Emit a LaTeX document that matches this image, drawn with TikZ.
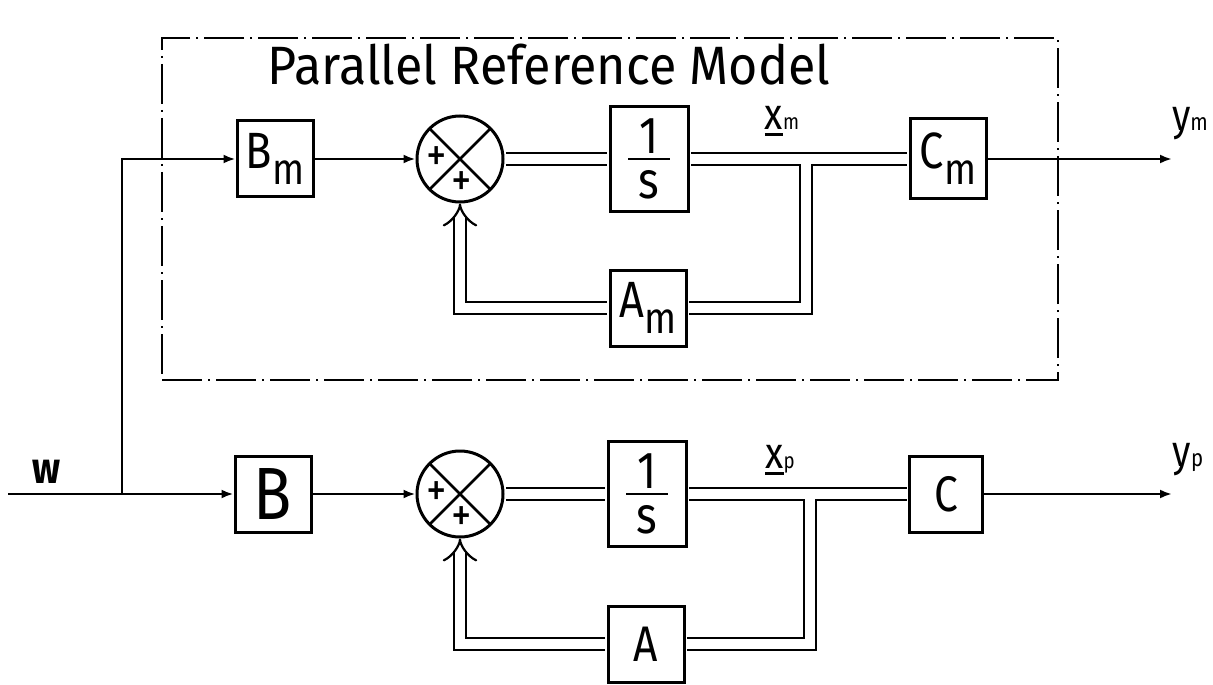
\documentclass[tikz,border=0pt]{standalone}
\usepackage{fontspec}
\setmainfont{Fira Sans}[FakeStretch=0.85]
\newfontfamily\titlefam{Fira Sans}[FakeStretch=0.93]
\usetikzlibrary{arrows.meta,positioning,calc}

\newcommand{\blocktxt}[2]{{\fontsize{25.5}{28}\selectfont #1\raisebox{-8pt}{\fontsize{22}{22}\selectfont #2}}}
\newcommand{\ulx}[1]{\setbox0\hbox{#1}\rlap{\rule[-3.5pt]{\wd0}{1.6pt}}\box0}
\newcommand{\titlefont}{\titlefam\fontsize{27}{30}\selectfont}

\begin{document}
\begin{tikzpicture}[x=0.5pt, y=-0.5pt,
    block/.style={draw, line width=1.5pt, minimum width=38pt, minimum height=38pt, inner sep=0pt},
    integ/.style={block, minimum width=39pt, minimum height=52.5pt, align=center,
        font=\fontsize{26}{22.5}\selectfont,
        path picture={\draw[line width=1.2pt] ([xshift=-10.5pt]path picture bounding box.center)
            -- ([xshift=10.5pt]path picture bounding box.center);}},
    summer/.style={circle, draw, line width=1.5pt, minimum size=43pt, inner sep=0pt,
        path picture={\draw[line width=1.3pt]
            (path picture bounding box.north west) -- (path picture bounding box.south east)
            (path picture bounding box.north east) -- (path picture bounding box.south west);}},
    plus/.style={font=\fontsize{24}{24}\selectfont, inner sep=0pt},
    wire/.style={line width=1.3pt},
    sig/.style={wire, -{Latex[length=6pt,width=4.5pt]}},
    vec/.style={double, double distance=5pt, line width=1.1pt, shorten <=0.75pt, shorten >=0.75pt},
    fb/.style={vec, shorten >=0pt, -{Implies}},
    refbox/.style={draw, line width=0.9pt, dash pattern=on 20pt off 3pt on 1pt off 3pt,
        minimum width=448pt, minimum height=171pt},
    lbl/.style={inner sep=0pt}
]
\useasboundingbox (0,0) rectangle (1213,684);

% Parallel reference model
\node[refbox] (refmodel) at (610,209) {};
\node[font=\titlefont] (title) at (549,65) {Parallel Reference Model};

\node[block] (Bm) at (275,159) {\blocktxt{B}{m}};
\node[summer] (S1) at (460,159) {};
\node[plus] (S1a) at ([xshift=-11.5pt]S1.center) {+};
\node[plus] (S1b) at ([xshift=1pt,yshift=-12.5pt]S1.center) {+};
\node[integ] (I1) at (649,159) {1\\s};
\node[block, minimum height=40pt] (Cm) at (948,159) {\blocktxt{C}{m}};
\node[block] (Am) at (648,308) {\blocktxt{A}{m}};
\node[lbl] (xm) at (782,121) {{\fontsize{22}{22}\selectfont\ulx{x}}{\fontsize{11}{11}\selectfont m}};
\coordinate (tap1) at (806,164);
\coordinate (ymend) at (1172,159);
\node[lbl] (ymlab) at (1190,124) {{\fontsize{22}{22}\selectfont y}{\fontsize{12}{12}\selectfont m}};

% Plant
\coordinate (win) at (8,494);
\coordinate (wsplit) at (122,494);
\node[lbl, font=\fontsize{22}{22}\selectfont\bfseries] (wlab) at (47,472) {w};
\node[block, font=\fontsize{37}{40}\selectfont] (B) at (273,494) {B};
\node[summer] (S2) at (460,494) {};
\node[plus] (S2a) at ([xshift=-11.5pt]S2.center) {+};
\node[plus] (S2b) at ([xshift=1pt,yshift=-12.5pt]S2.center) {+};
\node[integ] (I2) at (647,494) {1\\s};
\node[block, minimum width=36.5pt, font=\fontsize{25}{27}\selectfont] (C) at (946,494) {C};
\node[block, font=\fontsize{25}{27}\selectfont] (A) at (646,644) {A};
\node[lbl] (xp) at (780,460) {{\fontsize{22}{22}\selectfont\ulx{x}}{\fontsize{11}{11}\selectfont p}};
\coordinate (tap2) at (810,499);
\coordinate (ypend) at (1172,494);
\node[lbl] (yplab) at (1188,460) {{\fontsize{22}{22}\selectfont y}{\fontsize{12}{12}\selectfont p}};

% signals
\draw[wire] (win) -- (wsplit);
\draw[sig] (wsplit) -- (B.west);
\draw[sig] (wsplit) |- (Bm.west);
\draw[sig] (Bm.east) -- (S1.west);
\draw[vec] (S1.east) -- (I1.west);
\draw[vec] (I1.east) -- (Cm.west);
\draw[vec, shorten <=0pt] (tap1) |- (Am.east);
\draw[fb] (Am.west) -| (S1.south);
\draw[sig] (Cm.east) -- (ymend);

\draw[sig] (B.east) -- (S2.west);
\draw[vec] (S2.east) -- (I2.west);
\draw[vec] (I2.east) -- (C.west);
\draw[vec, shorten <=0pt] (tap2) |- (A.east);
\draw[fb] (A.west) -| (S2.south);
\draw[sig] (C.east) -- (ypend);

\end{tikzpicture}
\end{document}
